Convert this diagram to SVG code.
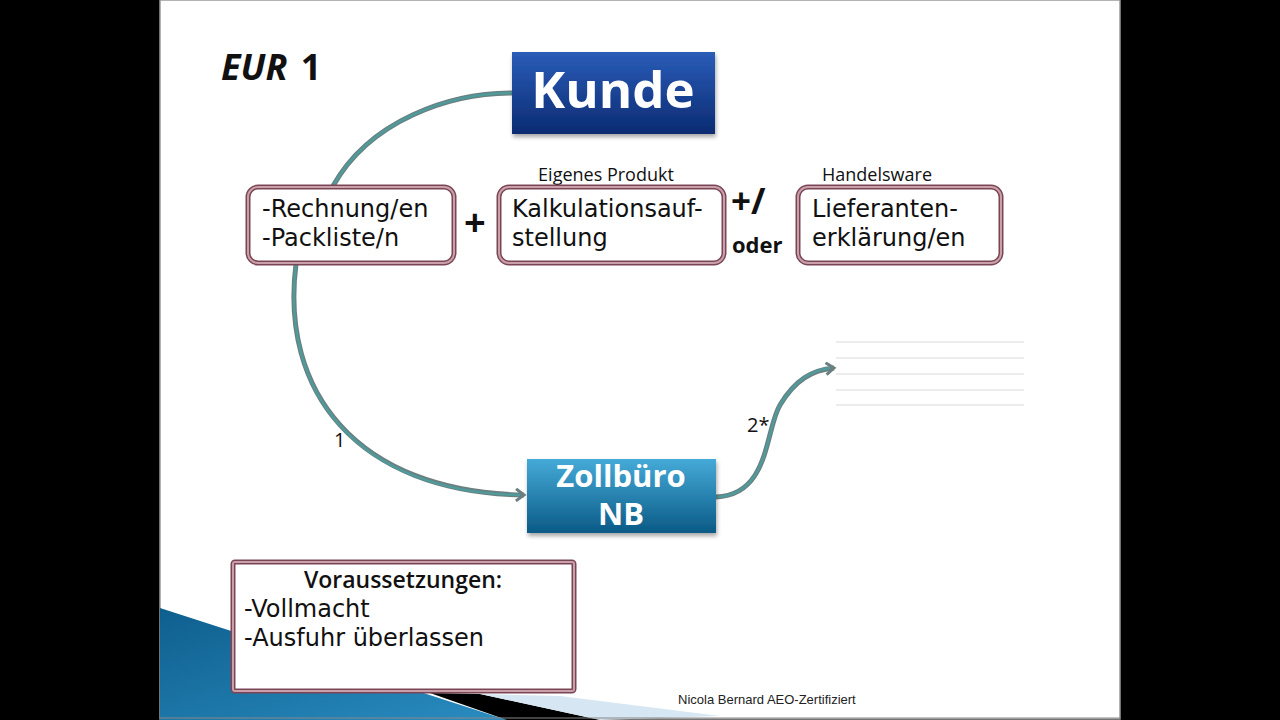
<svg xmlns="http://www.w3.org/2000/svg" width="1280" height="720" viewBox="0 0 1280 720">
<defs>
<style>
.frame{fill:#fff;stroke:#7a4656;stroke-width:5}
.frame2{fill:none;stroke:#c9a0aa;stroke-width:2}
.box{font-family:"DejaVu Sans","Open Sans",sans-serif;font-size:24px;fill:#111}
.small{font-family:"Open Sans","DejaVu Sans",sans-serif;fill:#111}
.bold{font-family:"Open Sans","Liberation Sans",sans-serif;font-weight:bold;fill:#111}
.white{font-family:"Open Sans","Liberation Sans",sans-serif;font-weight:bold;fill:#fff;text-anchor:middle}
.conn{fill:none;stroke:#6b7f80;stroke-width:5}
.conn2{fill:none;stroke:#4f9a9a;stroke-width:2.5}
.rule{stroke:#d9d9d9;stroke-width:1}
</style>
<linearGradient id="gK" x1="0" y1="0" x2="0" y2="1"><stop offset="0" stop-color="#2a5cb8"/><stop offset="1" stop-color="#0b2b72"/></linearGradient>
<linearGradient id="gZ" x1="0" y1="0" x2="0" y2="1"><stop offset="0" stop-color="#45aad8"/><stop offset="1" stop-color="#0b5a86"/></linearGradient>
<linearGradient id="gB" x1="0" y1="0" x2="1" y2="1"><stop offset="0" stop-color="#0e5f8e"/><stop offset="1" stop-color="#2a8cc0"/></linearGradient>
<filter id="sh" x="-10%" y="-10%" width="130%" height="140%"><feDropShadow dx="1" dy="3" stdDeviation="2" flood-color="#000" flood-opacity="0.35"/></filter>
<marker id="arr" viewBox="0 0 14 14" refX="11" refY="7" markerWidth="14" markerHeight="14" markerUnits="userSpaceOnUse" orient="auto">
<path d="M3,1 L11,7 L3,13" fill="none" stroke="#6b7f80" stroke-width="3" stroke-linejoin="miter"/>
</marker>
</defs>
<rect x="0" y="0" width="1280" height="720" fill="#000"/>
<rect x="160" y="0" width="960" height="719" fill="#fff" stroke="#9a9a9a" stroke-width="1.5"/>
<g id="decoration">
<polygon points="160,608 507,720 160,720" fill="url(#gB)"/>
<polygon points="430,693 480,694 600,720 507,720" fill="#000"/>
<polygon points="480,694 560,696 720,716 600,720" fill="#d6e6f2"/>
<line x1="160" y1="718" x2="1120" y2="718" stroke="#888" stroke-width="1"/>
</g>
<g id="rules">
<line class="rule" x1="836" y1="342" x2="1024" y2="342"/>
<line class="rule" x1="836" y1="358" x2="1024" y2="358"/>
<line class="rule" x1="836" y1="374" x2="1024" y2="374"/>
<line class="rule" x1="836" y1="390" x2="1024" y2="390"/>
<line class="rule" x1="836" y1="405" x2="1024" y2="405"/>
</g>
<g id="title"><text x="221" y="80" class="bold" style="font-size:36px;word-spacing:4px"><tspan font-style="italic">EUR</tspan> 1</text></g>
<g id="connectors">
<path class="conn" d="M512,93 C450,93 370,120 333,186"/>
<path class="conn2" d="M512,93 C450,93 370,120 333,186"/>
<path class="conn" d="M296,264 C280,390 355,492 524,495" marker-end="url(#arr)"/>
<path class="conn2" d="M296,264 C280,390 355,492 520,495"/>
<path class="conn" d="M716,497 C770,495 765,430 780,405 C795,380 812,370 834,368" marker-end="url(#arr)"/>
<path class="conn2" d="M716,497 C770,495 765,430 780,405 C795,380 812,370 830,368"/>
<text x="334" y="447" class="small" style="font-size:20px">1</text>
<text x="747" y="432" class="small" style="font-size:20px">2*</text>
</g>
<g id="kunde">
<rect x="512" y="52" width="203" height="82" fill="url(#gK)" filter="url(#sh)"/>
<text x="613" y="108" class="white" style="font-size:51px">Kunde</text>
</g>
<g id="rechnung">
<rect class="frame" x="248" y="187" width="206" height="76" rx="10"/>
<rect class="frame2" x="248" y="187" width="206" height="76" rx="10"/>
<text class="box" x="262" y="217">-Rechnung/en</text>
<text class="box" x="262" y="246">-Packliste/n</text>
</g>
<text x="464" y="236" class="bold" style="font-size:38px">+</text>
<g id="kalkulation">
<text x="606" y="181" class="small" text-anchor="middle" style="font-size:18px">Eigenes Produkt</text>
<rect class="frame" x="499" y="187" width="225" height="76" rx="10"/>
<rect class="frame2" x="499" y="187" width="225" height="76" rx="10"/>
<text class="box" x="512" y="217">Kalkulationsauf-</text>
<text class="box" x="512" y="246">stellung</text>
</g>
<text x="731" y="214" class="bold" style="font-size:35px">+/</text>
<text x="732" y="253" class="bold" style="font-size:22px">oder</text>
<g id="lieferanten">
<text x="877" y="181" class="small" text-anchor="middle" style="font-size:18px">Handelsware</text>
<rect class="frame" x="798" y="187" width="203" height="76" rx="10"/>
<rect class="frame2" x="798" y="187" width="203" height="76" rx="10"/>
<text class="box" x="812" y="217">Lieferanten-</text>
<text class="box" x="812" y="246">erklärung/en</text>
</g>
<g id="zollbuero">
<rect x="527" y="459" width="189" height="74" fill="url(#gZ)" filter="url(#sh)"/>
<text x="621" y="487" class="white" style="font-size:31px">Zollbüro</text>
<text x="621" y="525" class="white" style="font-size:31px">NB</text>
</g>
<g id="voraussetzungen">
<rect class="frame" x="233" y="562" width="341" height="129" rx="2"/>
<rect class="frame2" x="233" y="562" width="341" height="129" rx="2"/>
<text x="403" y="588" class="bold" text-anchor="middle" style="font-size:23px;font-weight:600">Voraussetzungen:</text>
<text class="box" x="244" y="617">-Vollmacht</text>
<text class="box" x="244" y="646">-Ausfuhr überlassen</text>
</g>
<text x="678" y="704" font-family="Liberation Sans,sans-serif" font-size="13" fill="#222">Nicola Bernard AEO-Zertifiziert</text>
</svg>
